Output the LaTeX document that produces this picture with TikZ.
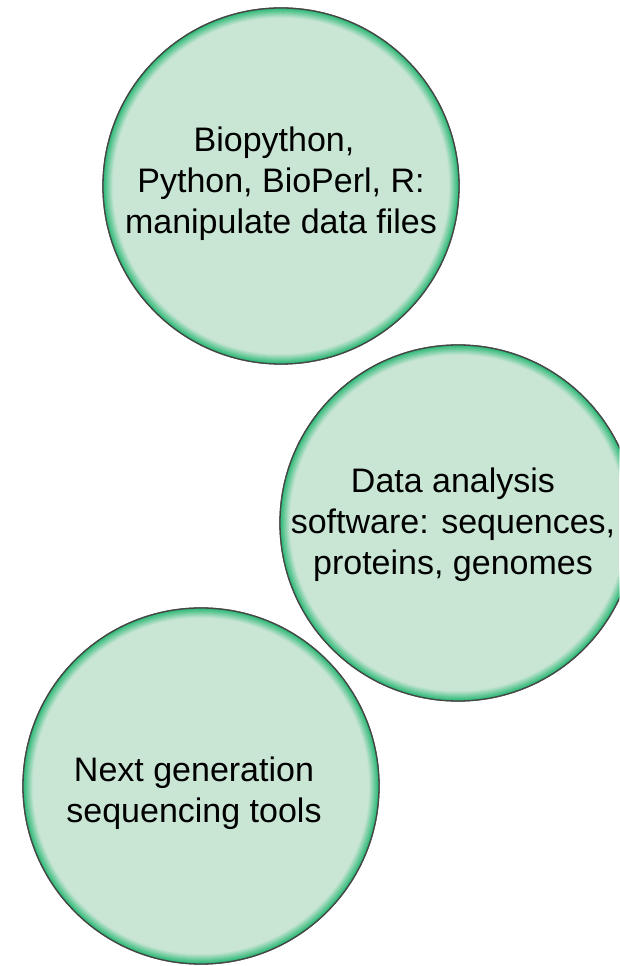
\documentclass[tikz,border=0pt]{standalone}
\usepackage{fontspec}
\setmainfont{Liberation Sans}
\definecolor{bubblefill}{RGB}{201,230,213}
\definecolor{bubbleglow}{RGB}{45,185,118}
\definecolor{bubbleline}{RGB}{70,70,70}
\tikzset{
  bubble/.style={circle, minimum size=356pt, inner sep=0pt, fill=bubblefill, draw=bubbleline, line width=1.3pt},
  bubbletext/.style={align=center, inner sep=0pt, font=\fontsize{34}{41}\selectfont, text=black}
}
\newcommand{\bubbleglowat}[1]{%
  \foreach \w in {10,9,...,1}{%
    \pgfmathsetmacro{\mixv}{100-(\w-1)*10.5}%
    \draw[bubbleglow!\mixv!bubblefill, line width=\w pt] (#1.center) circle (178pt-\w pt/2);
  }%
}
\begin{document}
\begin{tikzpicture}[x=1pt,y=1pt]
\useasboundingbox (0,0) rectangle (619,966);
\clip (0,0) rectangle (619,966);
\node[bubble] (c1) at (281,780) {};
\bubbleglowat{c1}
\node[bubble] (c2) at (458,443) {};
\bubbleglowat{c2}
\node[bubble] (c3) at (201,180) {};
\bubbleglowat{c3}
\draw[bubbleline, line width=1.3pt] (c1.center) circle (178pt);
\draw[bubbleline, line width=1.3pt] (c2.center) circle (178pt);
\draw[bubbleline, line width=1.3pt] (c3.center) circle (178pt);
\node[bubbletext] (t1) at (281,782) {Biopython,\hspace*{14pt}\\Python, BioPerl, R:\\manipulate data files};
\node[bubbletext] (t2) at (453,441) {Data analysis\\software: sequences,\\ proteins, genomes};
\node[bubbletext] (t3) at (194,173) {Next generation\\sequencing tools};
\end{tikzpicture}
\end{document}
